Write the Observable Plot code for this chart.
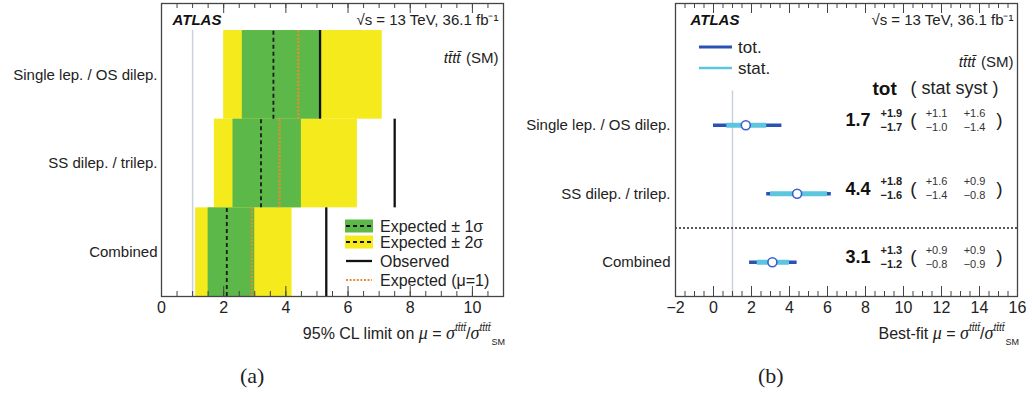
<!DOCTYPE html>
<html><head><meta charset="utf-8">
<script src="https://cdn.jsdelivr.net/npm/d3@7"></script>
<script src="https://cdn.jsdelivr.net/npm/@observablehq/plot@0.6"></script>
<style>
body{margin:0;background:#fff;font-family:"Liberation Sans",Arial,sans-serif;color:#222;}
#wrap{position:relative;width:1032px;height:394px;overflow:hidden;background:#fff;}
.panel{position:absolute;top:0;}
.xlab{position:absolute;font-size:16px;white-space:nowrap;color:#222;line-height:1;}
.xlab i.g{font-family:"Liberation Serif","DejaVu Serif",serif;font-size:18px;}
.xlab sup{font-size:10px;font-style:italic;vertical-align:8px;}
.xlab sub{font-size:9px;vertical-align:-6px;margin-left:1px;}
.cap{position:absolute;font-family:"Liberation Serif","Times New Roman",serif;font-size:22px;color:#222;}
.leg{position:absolute;}
</style></head><body><div id="wrap"></div><script>
// ---------- data ----------
const channels = ["Single lep. / OS dilep.", "SS dilep. / trilep.", "Combined"];
// panel (a): 95% CL limits on mu
const expectedLimit = [3.6, 3.2, 2.1];
const observedLimit = [5.1, 7.5, 5.3];
const expectedMu1 = [4.4, 3.8, 2.9];
const band1sLo = [2.6, 2.3, 1.5];
const band1sHi = [5.1, 4.5, 3.0];
const band2sLo = [2.0, 1.7, 1.1];
const band2sHi = [7.1, 6.3, 4.2];
// panel (b): best-fit mu
const bestFit = [1.7, 4.4, 3.1];
const totUp = [1.9, 1.8, 1.3];
const totDn = [1.7, 1.6, 1.2];
const statUp = [1.1, 1.6, 0.9];
const statDn = [1.0, 1.4, 0.8];
const systUp = [1.6, 0.9, 0.9];
const systDn = [1.4, 0.8, 0.9];
// axes
const xTicksA = [0, 2, 4, 6, 8, 10];
const xDomainA = [0, 11];
const xTicksB = [-2, 0, 2, 4, 6, 8, 10, 12, 14, 16];
const xDomainB = [-2, 16];
const smRef = [1];

// ---------- colours ----------
const YELLOW = "#f4ea1c", GREEN = "#5db84a", ORANGE = "#f08a2c";
const BLUE = "#2a52b4", CYAN = "#5cc6de", FRAME = "#444";

const n = channels.length;
const W = 516, H = 340, MT = 3, MB = 44;
const plotH = H - MT - MB;
const wrap = document.getElementById("wrap");
const fmt = v => v.toFixed(1);
const MINUS = "\u2212";

function frameTicks(major, minor) {
  return [
    Plot.ruleX(minor, {insetTop: plotH - 5, stroke: FRAME}),
    Plot.ruleX(major, {insetTop: plotH - 10, stroke: FRAME}),
    Plot.ruleX(minor, {insetBottom: plotH - 5, stroke: FRAME}),
    Plot.ruleX(major, {insetBottom: plotH - 10, stroke: FRAME})
  ];
}
function header(dxL, dxR) {
  return [
    Plot.text(["ATLAS"], {frameAnchor: "top-left", dx: dxL, dy: 17, lineAnchor: "middle", textAnchor: "start",
      fontWeight: "bold", fontStyle: "italic", fontSize: 15, fill: "#111"}),
    Plot.text(["\u221As = 13 TeV, 36.1 fb\u207B\u00B9"], {frameAnchor: "top-right", dx: dxR, dy: 17, lineAnchor: "middle",
      textAnchor: "end", fontSize: 15, fill: "#222"})
  ];
}

// ---------- panel (a) ----------
const dataA = channels.map((c, i) => ({
  channel: c, row: n - 1 - i,
  exp: expectedLimit[i], obs: observedLimit[i], mu1: expectedMu1[i],
  lo1: band1sLo[i], hi1: band1sHi[i], lo2: band2sLo[i], hi2: band2sHi[i]
}));
const labelA = new Map(dataA.map(d => [d.row + 0.5, d.channel]));
const headRoomA = 0.305;

const plotA = Plot.plot({
  width: W, height: H, marginLeft: 161, marginRight: 13, marginTop: MT, marginBottom: MB,
  style: {fontFamily: "Liberation Sans, Arial, sans-serif", fontSize: "15px", color: "#222", background: "#fff"},
  x: {domain: xDomainA},
  y: {domain: [0, n + headRoomA]},
  marks: [
    Plot.ruleX(smRef, {y1: 0, y2: n, stroke: "#c9d1dc", strokeWidth: 1.5}),
    Plot.rect(dataA, {x1: "lo2", x2: "hi2", y1: "row", y2: d => d.row + 1, fill: YELLOW}),
    Plot.rect(dataA, {x1: "lo1", x2: "hi1", y1: "row", y2: d => d.row + 1, fill: GREEN}),
    Plot.ruleX(dataA, {x: "exp", y1: "row", y2: d => d.row + 1, stroke: "#1a1a1a", strokeWidth: 1.8, strokeDasharray: "4,3"}),
    Plot.ruleX(dataA, {x: "mu1", y1: "row", y2: d => d.row + 1, stroke: ORANGE, strokeWidth: 2.2, strokeDasharray: "2,1.6"}),
    Plot.ruleX(dataA, {x: "obs", y1: "row", y2: d => d.row + 1, stroke: "#111", strokeWidth: 2.3}),
    Plot.frame({stroke: FRAME, strokeWidth: 1.3}),
    ...frameTicks(xTicksA, d3.range(xDomainA[0], xDomainA[1] + 0.001, 0.5)),
    Plot.axisX({ticks: xTicksA, tickSize: 0, tickPadding: 5, fontSize: 16, label: null}),
    Plot.axisY({ticks: dataA.map(d => d.row + 0.5), tickFormat: v => labelA.get(v), tickSize: 0, tickPadding: 4, fontSize: 15, label: null}),
    ...header(11, -5),
    Plot.text(["(SM)"], {frameAnchor: "top-right", dx: -5, dy: 55, lineAnchor: "middle", textAnchor: "end", fontSize: 15}),
    Plot.text(["tt\u0304tt\u0304"], {frameAnchor: "top-right", dx: -43, dy: 55, lineAnchor: "middle", textAnchor: "end", fontSize: 15, fontStyle: "italic"})
  ]
});
plotA.classList.add("panel");
plotA.style.left = "0px";
wrap.appendChild(plotA);

// ---------- panel (b) ----------
const dataB = channels.map((c, i) => ({
  channel: c, row: n - 1 - i, mu: bestFit[i],
  totLo: bestFit[i] - totDn[i], totHi: bestFit[i] + totUp[i],
  statLo: bestFit[i] - statDn[i], statHi: bestFit[i] + statUp[i],
  tU: totUp[i], tD: totDn[i], sU: statUp[i], sD: statDn[i], yU: systUp[i], yD: systDn[i]
}));
const labelB = new Map(dataB.map(d => [d.row, d.channel]));
const sepY = (dataB[1].row + dataB[2].row) / 2;

const plotB = Plot.plot({
  width: W, height: H, marginLeft: 159, marginRight: 15, marginTop: MT, marginBottom: MB,
  style: {fontFamily: "Liberation Sans, Arial, sans-serif", fontSize: "15px", color: "#222", background: "#fff"},
  x: {domain: xDomainB},
  y: {domain: [-0.5, 3.777]},
  marks: [
    Plot.ruleX(smRef, {y1: -0.5, y2: n - 0.5, stroke: "#c9d1dc", strokeWidth: 1.5}),
    Plot.ruleY([sepY], {stroke: "#222", strokeWidth: 1.6, strokeDasharray: "2,2"}),
    Plot.ruleY(dataB, {y: "row", x1: "totLo", x2: "totHi", stroke: BLUE, strokeWidth: 3.5}),
    Plot.ruleY(dataB, {y: "row", x1: "statLo", x2: "statHi", stroke: CYAN, strokeWidth: 5}),
    Plot.dot(dataB, {x: "mu", y: "row", r: 4.5, fill: "#fff", stroke: "#3a5fcf", strokeWidth: 1.6}),
    Plot.frame({stroke: FRAME, strokeWidth: 1.3}),
    ...frameTicks(xTicksB, d3.range(xDomainB[0], xDomainB[1] + 0.001, 0.5)),
    Plot.axisX({ticks: xTicksB, tickSize: 0, tickPadding: 5, fontSize: 16, label: null}),
    Plot.axisY({ticks: dataB.map(d => d.row), tickFormat: v => labelB.get(v), tickSize: 0, tickPadding: 5, fontSize: 15, label: null}),
    ...header(15, -4),
    Plot.text(["(SM)"], {frameAnchor: "top-right", dx: -4, dy: 59, lineAnchor: "middle", textAnchor: "end", fontSize: 15}),
    Plot.text(["tt\u0304tt\u0304"], {frameAnchor: "top-right", dx: -42, dy: 59, lineAnchor: "middle", textAnchor: "end", fontSize: 15, fontStyle: "italic"}),
    Plot.text(["tot"], {frameAnchor: "top-right", dx: -145, dy: 85, lineAnchor: "middle", textAnchor: "start", fontSize: 19, fontWeight: "bold", fill: "#111"}),
    Plot.text(["( stat syst )"], {frameAnchor: "top-right", dx: -107, dy: 85, lineAnchor: "middle", textAnchor: "start", fontSize: 18}),
    // values
    Plot.text(dataB, {y: "row", text: d => fmt(d.mu), frameAnchor: "right", dx: -147, dy: -5, textAnchor: "end", fontWeight: "bold", fontSize: 18, fill: "#111"}),
    Plot.text(dataB, {y: "row", text: d => "+" + fmt(d.tU), frameAnchor: "right", dx: -137, dy: -12, textAnchor: "start", fontWeight: "bold", fontSize: 11}),
    Plot.text(dataB, {y: "row", text: d => MINUS + fmt(d.tD), frameAnchor: "right", dx: -137, dy: 2, textAnchor: "start", fontWeight: "bold", fontSize: 11}),
    Plot.text(dataB, {y: "row", text: () => "(", frameAnchor: "right", dx: -104, dy: -5, textAnchor: "middle", fontSize: 19}),
    Plot.text(dataB, {y: "row", text: () => ")", frameAnchor: "right", dx: -18, dy: -5, textAnchor: "middle", fontSize: 19}),
    Plot.text(dataB, {y: "row", text: d => "+" + fmt(d.sU), frameAnchor: "right", dx: -81, dy: -12, textAnchor: "middle", fontSize: 11, fill: "#333"}),
    Plot.text(dataB, {y: "row", text: d => MINUS + fmt(d.sD), frameAnchor: "right", dx: -81, dy: 2, textAnchor: "middle", fontSize: 11, fill: "#333"}),
    Plot.text(dataB, {y: "row", text: d => "+" + fmt(d.yU), frameAnchor: "right", dx: -43, dy: -12, textAnchor: "middle", fontSize: 11, fill: "#333"}),
    Plot.text(dataB, {y: "row", text: d => MINUS + fmt(d.yD), frameAnchor: "right", dx: -43, dy: 2, textAnchor: "middle", fontSize: 11, fill: "#333"})
  ]
});
plotB.classList.add("panel");
plotB.style.left = W + "px";
wrap.appendChild(plotB);

// ---------- legends (overlays) ----------
function legendSvg(left, top, w, h, rows) {
  const s = d3.create("svg").attr("class", "leg").attr("width", w).attr("height", h)
    .style("left", left + "px").style("top", top + "px")
    .style("font-family", "Liberation Sans, Arial, sans-serif");
  rows.forEach(r => r(s));
  wrap.appendChild(s.node());
}
const legA = [
  {label: "Expected \u00B1 1\u03C3", box: GREEN, line: "#111", dash: "4,3", w: 1.8},
  {label: "Expected \u00B1 2\u03C3", box: YELLOW, line: "#111", dash: "4,3", w: 1.8},
  {label: "Observed", box: null, line: "#111", dash: null, w: 2.3},
  {label: "Expected (\u03BC=1)", box: null, line: ORANGE, dash: "2,1.6", w: 2.2}
];
const legAy = [11, 27, 46, 65];
legendSvg(340, 215, 175, 78, legA.map((d, i) => s => {
  const y = legAy[i];
  if (d.box) s.append("rect").attr("x", 5).attr("y", y - 6.5).attr("width", 28).attr("height", 13).attr("fill", d.box);
  s.append("line").attr("x1", 6).attr("x2", 32).attr("y1", y).attr("y2", y).attr("stroke", d.line)
    .attr("stroke-width", d.w).attr("stroke-dasharray", d.dash);
  s.append("text").attr("x", 40).attr("y", y).attr("dy", "0.35em").attr("font-size", 16).attr("fill", "#222").text(d.label);
}));
const legB = [{label: "tot.", color: BLUE, w: 3, y: 12}, {label: "stat.", color: CYAN, w: 2.5, y: 33}];
legendSvg(690, 35, 90, 45, legB.map(d => s => {
  s.append("line").attr("x1", 9).attr("x2", 42).attr("y1", d.y).attr("y2", d.y).attr("stroke", d.color).attr("stroke-width", d.w);
  s.append("text").attr("x", 48).attr("y", d.y).attr("dy", "0.35em").attr("font-size", 17).attr("fill", "#222").text(d.label);
}));

// ---------- axis titles and captions ----------
function addHtml(cls, html, css) {
  const el = document.createElement("div");
  el.className = cls; el.innerHTML = html;
  Object.assign(el.style, css);
  wrap.appendChild(el);
}
const sigT = "<i class='g'>\u03C3</i><sup>tt\u0304tt\u0304</sup>";
addHtml("xlab", "95% CL limit on <i class='g'>\u03BC</i> = " + sigT + "/" + sigT + "<sub>SM</sub>", {right: (1032 - 505) + "px", top: "323px"});
addHtml("xlab", "Best-fit <i class='g'>\u03BC</i> = " + sigT + "/" + sigT + "<sub>SM</sub>", {right: (1032 - 1019) + "px", top: "323px"});
addHtml("cap", "(a)", {left: "240px", top: "363px"});
addHtml("cap", "(b)", {left: "758px", top: "363px"});
</script></body></html>
